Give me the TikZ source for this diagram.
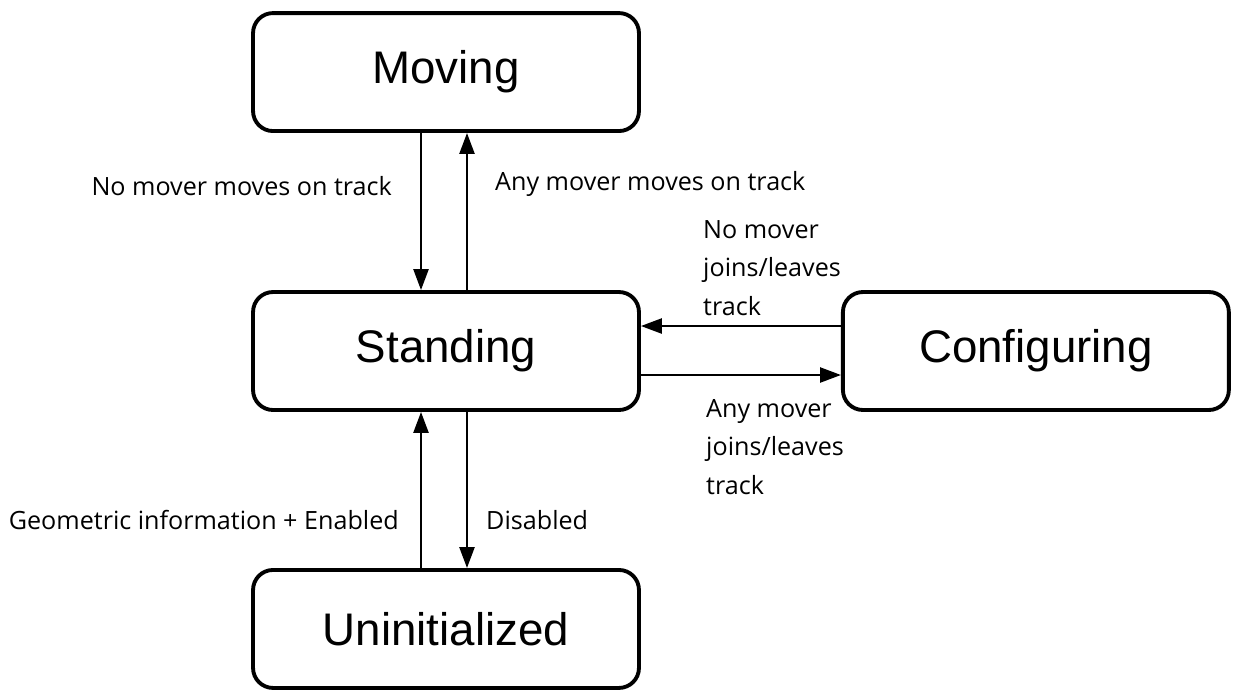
\documentclass[tikz,border=0pt]{standalone}
\usepackage{fontspec}
\setmainfont{Liberation Sans}
\newfontfamily\lblfont{Open Sans}
\usetikzlibrary{arrows.meta,positioning}

\begin{document}
\begin{tikzpicture}[x=0.02cm, y=-0.02cm, line width=1.4pt, >={Triangle[length=4.2mm,width=3mm]},
    main/.style = {draw, rounded corners=0.4cm, line width=2.2pt, minimum width=7.72cm, minimum height=2.36cm, font=\fontsize{26}{30}\selectfont},
    lbl/.style = {inner sep=0pt, align=left, font=\lblfont\fontsize{14.3}{21.9}\selectfont}]
        \useasboundingbox (0,0) rectangle (1234,691);
        \node[main] (2) at (446,351) {Standing};
        \node[main] (1) [above of=2, node distance=5.58cm] {Moving};
        \node[main] (3) [right of=2, node distance=11.8cm] {Configuring};
        \node[main] (4) [below of=2, node distance=5.56cm] {Uninitialized};
        \draw[->] ([xshift=-0.5cm]1.south) -- ([xshift=-0.5cm]2.north);
        \draw[->] ([xshift=0.42cm]2.north) -- ([xshift=0.42cm]1.south);
        \draw[->] ([yshift=0.5cm]3.west) -- ([yshift=0.5cm]2.east);
        \draw[->] ([yshift=-0.48cm]2.east) -- ([yshift=-0.48cm]3.west);
        \draw[->] ([xshift=0.42cm]2.south) -- ([xshift=0.42cm]4.north);
        \draw[->] ([xshift=-0.5cm]4.north) -- ([xshift=-0.5cm]2.south);
        % labels
        \node[lbl, anchor=east] (a) at (393,186) {No mover moves on track};
        \node[lbl, anchor=west] (b) at (494,184) {Any mover moves on track};
        \node[lbl, anchor=west] (c) at (702,268) {No mover\\joins/leaves\\track};
        \node[lbl, anchor=west] (d) at (705,447) {Any mover\\joins/leaves\\track};
        \node[lbl, anchor=east] (e) at (400,520) {Geometric information + Enabled};
        \node[lbl, anchor=west] (f) at (485,520) {Disabled};
    \end{tikzpicture}
\end{document}
